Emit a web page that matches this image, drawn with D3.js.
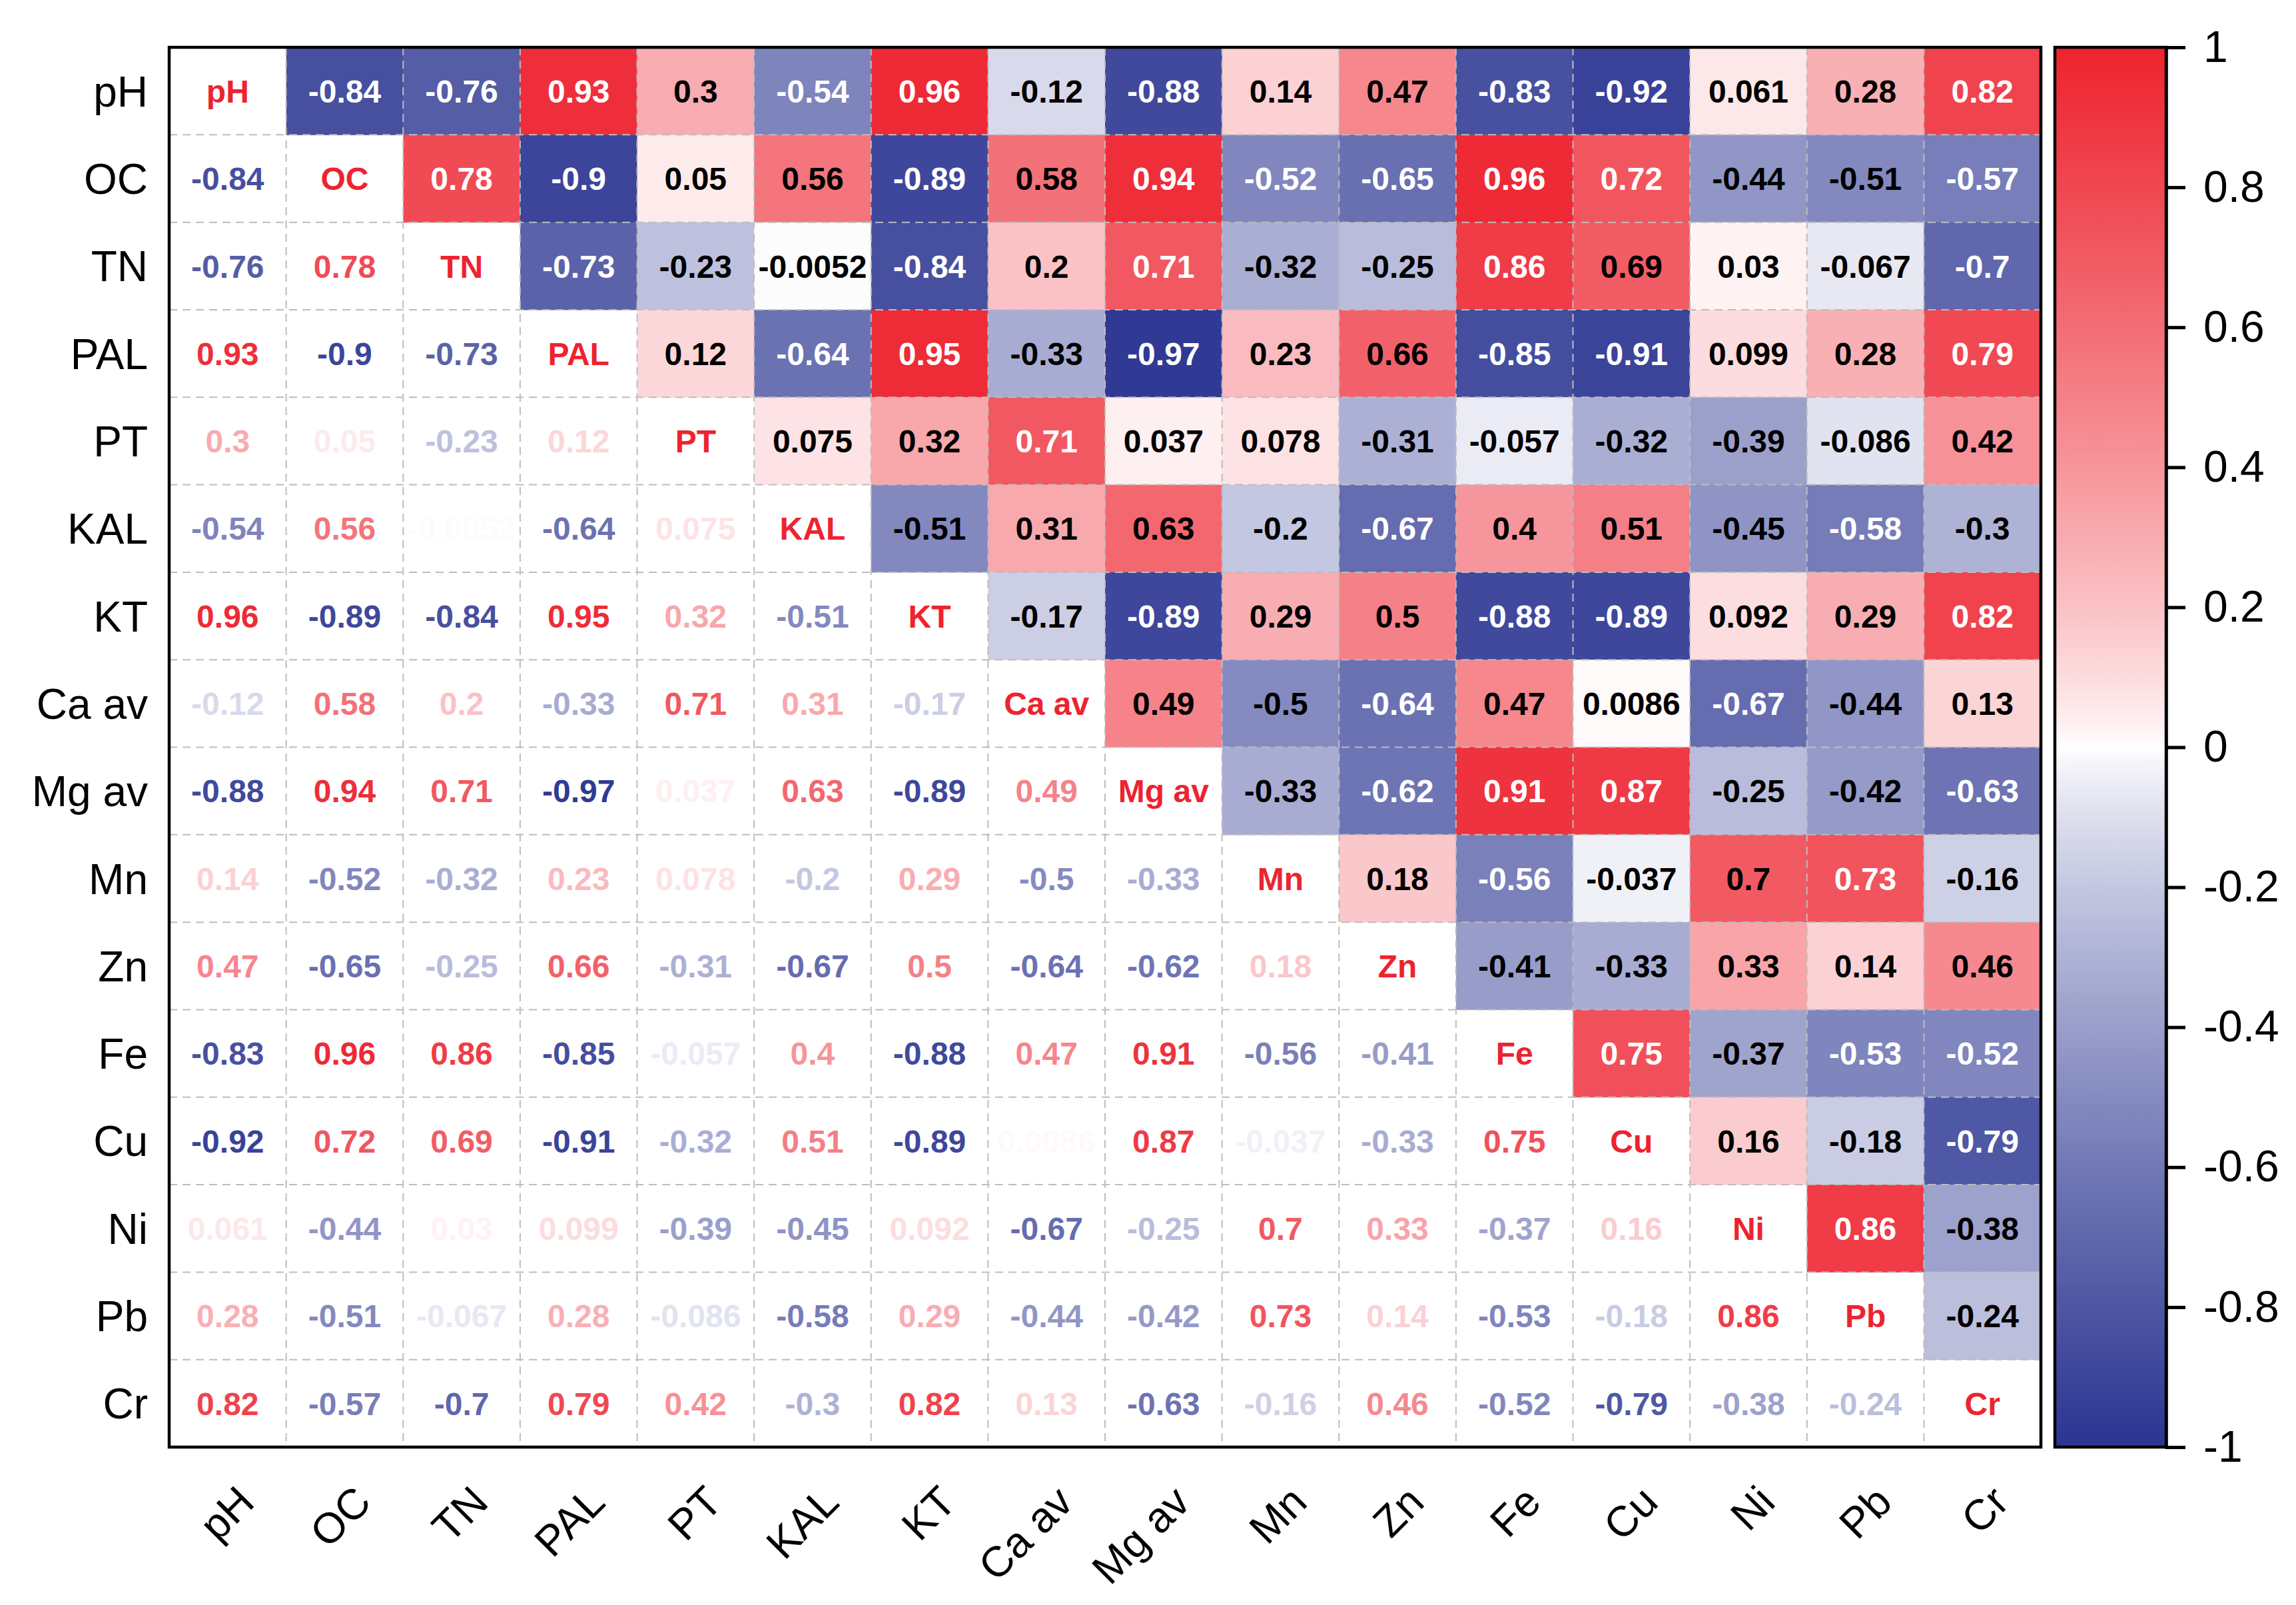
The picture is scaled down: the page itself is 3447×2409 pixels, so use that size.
<!DOCTYPE html>
<html>
<head>
<meta charset="utf-8">
<script src="https://cdn.jsdelivr.net/npm/d3@7"></script>
<style>
  html, body { margin: 0; padding: 0; background: #fff; }
  svg { display: block; font-family: "Liberation Sans", Arial, sans-serif; }
</style>
</head>
<body>
<svg id="chart" width="3447" height="2409"></svg>
<script>
// variables (rows / columns, same order)
const vars = ["pH", "OC", "TN", "PAL", "PT", "KAL", "KT", "Ca av", "Mg av", "Mn", "Zn", "Fe", "Cu", "Ni", "Pb", "Cr"];

// upper triangle of the correlation matrix, row by row (values right of the diagonal)
const r_pH  = [-0.84, -0.76, 0.93, 0.3, -0.54, 0.96, -0.12, -0.88, 0.14, 0.47, -0.83, -0.92, 0.061, 0.28, 0.82];
const r_OC  = [0.78, -0.9, 0.05, 0.56, -0.89, 0.58, 0.94, -0.52, -0.65, 0.96, 0.72, -0.44, -0.51, -0.57];
const r_TN  = [-0.73, -0.23, -0.0052, -0.84, 0.2, 0.71, -0.32, -0.25, 0.86, 0.69, 0.03, -0.067, -0.7];
const r_PAL = [0.12, -0.64, 0.95, -0.33, -0.97, 0.23, 0.66, -0.85, -0.91, 0.099, 0.28, 0.79];
const r_PT  = [0.075, 0.32, 0.71, 0.037, 0.078, -0.31, -0.057, -0.32, -0.39, -0.086, 0.42];
const r_KAL = [-0.51, 0.31, 0.63, -0.2, -0.67, 0.4, 0.51, -0.45, -0.58, -0.3];
const r_KT  = [-0.17, -0.89, 0.29, 0.5, -0.88, -0.89, 0.092, 0.29, 0.82];
const r_Ca  = [0.49, -0.5, -0.64, 0.47, 0.0086, -0.67, -0.44, 0.13];
const r_Mg  = [-0.33, -0.62, 0.91, 0.87, -0.25, -0.42, -0.63];
const r_Mn  = [0.18, -0.56, -0.037, 0.7, 0.73, -0.16];
const r_Zn  = [-0.41, -0.33, 0.33, 0.14, 0.46];
const r_Fe  = [0.75, -0.37, -0.53, -0.52];
const r_Cu  = [0.16, -0.18, -0.79];
const r_Ni  = [0.86, -0.38];
const r_Pb  = [-0.24];
const upperRows = [r_pH, r_OC, r_TN, r_PAL, r_PT, r_KAL, r_KT, r_Ca, r_Mg, r_Mn, r_Zn, r_Fe, r_Cu, r_Ni, r_Pb, []];

// colour bar ticks
const cbTicks = [1, 0.8, 0.6, 0.4, 0.2, 0, -0.2, -0.4, -0.6, -0.8, -1];

const RED = "#ed232f", BLUE = "#2b3591";

// build the cell list (full symmetric matrix)
let cells = [];
for (let i = 0; i < vars.length; i++) {
  for (let j = 0; j < vars.length; j++) {
    let v;
    if (i === j) v = 1;
    else if (j > i) v = upperRows[i][j - i - 1];
    else v = upperRows[j][i - j - 1];
    cells.push({row: i, col: j, v: v});
  }
}

const svg = d3.select("#chart");

let x = d3.scaleBand().domain(vars).range([254, 3064]);
let y = d3.scaleBand().domain(vars).range([71, 2172]);

let color = d3.scaleDivergingPow()
  .exponent(0.8)
  .domain([-1, 0, 1])
  .interpolator(d3.piecewise(d3.interpolateRgb, [BLUE, "#ffffff", RED]));

// upper triangle filled cells
svg.append("g").selectAll("rect")
  .data(cells.filter(d => d.col > d.row))
  .join("rect")
  .attr("x", d => x(vars[d.col]))
  .attr("y", d => y(vars[d.row]))
  .attr("width", x.bandwidth() + 0.5)
  .attr("height", y.bandwidth() + 0.5)
  .attr("fill", d => color(d.v));

// dashed grid
let grid = svg.append("g")
  .attr("stroke", "#bdbdbd")
  .attr("stroke-width", 2)
  .attr("stroke-dasharray", "12,8");
for (let k = 1; k < vars.length; k++) {
  let gx = x(vars[k]), gy = y(vars[k]);
  grid.append("line").attr("x1", gx).attr("x2", gx).attr("y1", y.range()[0]).attr("y2", y.range()[1]);
  grid.append("line").attr("y1", gy).attr("y2", gy).attr("x1", x.range()[0]).attr("x2", x.range()[1]);
}

// cell texts
svg.append("g").selectAll("text")
  .data(cells)
  .join("text")
  .attr("x", d => x(vars[d.col]) + x.bandwidth() / 2)
  .attr("y", d => y(vars[d.row]) + y.bandwidth() / 2)
  .attr("dy", "0.36em")
  .attr("text-anchor", "middle")
  .attr("font-size", 48)
  .attr("font-weight", "bold")
  .attr("fill", d => {
    if (d.row === d.col) return RED;
    if (d.col < d.row) return color(d.v);
    return (d.v >= 0.71 || d.v <= -0.52) ? "#fff" : "#000";
  })
  .text(d => d.row === d.col ? vars[d.row] : String(d.v));

// frame
svg.append("rect")
  .attr("x", x.range()[0]).attr("y", y.range()[0])
  .attr("width", x.range()[1] - x.range()[0])
  .attr("height", y.range()[1] - y.range()[0])
  .attr("fill", "none").attr("stroke", "#000").attr("stroke-width", 4.5);

// row labels
svg.append("g").selectAll("text")
  .data(vars)
  .join("text")
  .attr("x", 222)
  .attr("y", d => y(d) + y.bandwidth() / 2)
  .attr("dy", "0.36em")
  .attr("text-anchor", "end")
  .attr("font-size", 64)
  .text(d => d);

// column labels, rotated
svg.append("g").selectAll("text")
  .data(vars)
  .join("text")
  .attr("transform", d => "translate(" + (x(d) + x.bandwidth() / 2 + 43) + "," + (y.range()[1] + 86) + ") rotate(-45)")
  .attr("text-anchor", "end")
  .attr("font-size", 64)
  .text(d => d);

// colour bar
let cbX0 = 3085, cbX1 = 3252;
let cbScale = d3.scaleLinear().domain([-1, 1]).range([y.range()[1], y.range()[0]]);

let grad = svg.append("defs").append("linearGradient")
  .attr("id", "cbGrad")
  .attr("x1", 0).attr("y1", 1).attr("x2", 0).attr("y2", 0);
grad.selectAll("stop")
  .data(d3.range(0, 1.0001, 0.01))
  .join("stop")
  .attr("offset", t => t)
  .attr("stop-color", t => color(t * 2 - 1));

svg.append("rect")
  .attr("x", cbX0).attr("y", cbScale(1))
  .attr("width", cbX1 - cbX0).attr("height", cbScale(-1) - cbScale(1))
  .attr("fill", "url(#cbGrad)")
  .attr("stroke", "#000").attr("stroke-width", 4.5);

let cbAxis = svg.append("g")
  .attr("transform", "translate(" + cbX1 + ",0)")
  .call(d3.axisRight(cbScale).tickValues(cbTicks).tickSize(29).tickPadding(27).tickFormat(d => String(d)));
cbAxis.select(".domain").attr("stroke-width", 4.5);
cbAxis.selectAll(".tick line").attr("stroke-width", 5);
cbAxis.selectAll(".tick text")
  .attr("font-size", 66)
  .attr("font-family", "Liberation Sans, Arial, sans-serif")
  .attr("fill", "#000");
</script>
</body>
</html>
